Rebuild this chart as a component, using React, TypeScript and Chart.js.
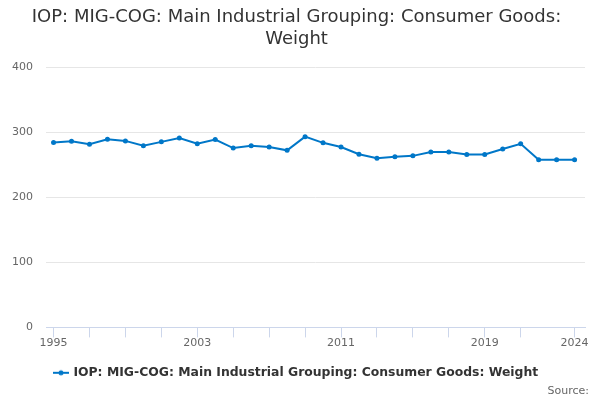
import React, { useEffect, useRef } from "react";
import { Chart, registerables } from "chart.js";

Chart.register(...registerables);

// years and weights
const years = [
    1995, 1996, 1997, 1998, 1999, 2000, 2001, 2002, 2003, 2004,
    2005, 2006, 2007, 2008, 2009, 2010, 2011, 2012, 2013, 2014,
    2015, 2016, 2017, 2018, 2019, 2020, 2021, 2022, 2023, 2024,
];
const weights = [
    284, 286, 281.5, 289, 286.5, 279, 285, 291, 282, 288.5,
    275.5, 279, 277, 272, 293, 283.5, 277, 266, 260, 262,
    263.5, 269.5, 269.5, 265.5, 265.5, 274, 282, 257.7, 257.7, 257.7,
];
const tickYears = [
    1995, 1997, 1999, 2001, 2003, 2005, 2007, 2009, 2011, 2013,
    2015, 2017, 2019, 2021, 2024,
];
const labelYears = [1995, 2003, 2011, 2019, 2024];
const yTicks = [0, 100, 200, 300, 400];

const seriesName = "IOP: MIG-COG: Main Industrial Grouping: Consumer Goods: Weight";
const titleLines = ["IOP: MIG-COG: Main Industrial Grouping: Consumer Goods:", "Weight"];
const lineColor = "#0077c8";
const font = "'DejaVu Sans', sans-serif";

// little legend marker: a line with a dot on it
const makeMarker = () => {
    const c = document.createElement("canvas");
    c.width = 16;
    c.height = 8;
    const g = c.getContext("2d");
    if (g) {
        g.strokeStyle = lineColor;
        g.lineWidth = 2;
        g.beginPath();
        g.moveTo(0, 4);
        g.lineTo(16, 4);
        g.stroke();
        g.fillStyle = lineColor;
        g.beginPath();
        g.arc(8, 4, 2.5, 0, Math.PI * 2);
        g.fill();
    }
    return c;
};

const App = () => {
    const chartRef = useRef<HTMLCanvasElement | null>(null);

    useEffect(() => {
        if (!chartRef.current) return;
        const ctx = chartRef.current.getContext("2d");
        if (!ctx) return;
        const marker = makeMarker();

        const chart = new Chart(ctx, {
            type: "line",
            data: {
                datasets: [
                    {
                        label: seriesName,
                        data: years.map((y, i) => ({ x: y, y: weights[i] })),
                        borderColor: lineColor,
                        backgroundColor: lineColor,
                        borderWidth: 2,
                        pointRadius: 2.5,
                        pointBorderWidth: 0,
                        pointStyle: "circle",
                        tension: 0,
                    },
                ],
            },
            options: {
                animation: false,
                responsive: false,
                layout: { padding: { left: 8, right: 15, top: 4, bottom: 11 } },
                plugins: {
                    title: {
                        display: true,
                        text: titleLines,
                        color: "#333333",
                        font: { family: font, size: 18, weight: "normal", lineHeight: 1.25 },
                        padding: { top: 2, bottom: 16 },
                    },
                    legend: {
                        position: "bottom",
                        labels: {
                            usePointStyle: true,
                            color: "#333333",
                            font: { family: font, size: 12.4, weight: "bold" },
                            padding: 18,
                            generateLabels: () => [
                                {
                                    text: seriesName,
                                    pointStyle: marker as any,
                                    fillStyle: lineColor,
                                    strokeStyle: lineColor,
                                    lineWidth: 0,
                                    datasetIndex: 0,
                                    fontColor: "#333333",
                                },
                            ],
                        },
                    },
                    tooltip: { enabled: false },
                },
                scales: {
                    x: {
                        type: "linear",
                        min: 1994.58,
                        max: 2024.58,
                        afterBuildTicks: (scale: any) => {
                            scale.ticks = tickYears.map((v) => ({ value: v }));
                        },
                        ticks: {
                            autoSkip: false,
                            maxRotation: 0,
                            color: "#666666",
                            font: { family: font, size: 11 },
                            padding: -1,
                            callback: (v: any) => (labelYears.includes(Number(v)) ? String(v) : ""),
                        },
                        grid: {
                            drawOnChartArea: false,
                            color: "#ccd6eb",
                            tickLength: 10,
                        },
                        border: { color: "#ccd6eb", width: 1 },
                    },
                    y: {
                        min: 0,
                        max: 400,
                        afterBuildTicks: (scale: any) => {
                            scale.ticks = yTicks.map((v) => ({ value: v }));
                        },
                        afterFit: (scale: any) => {
                            scale.width = 38;
                        },
                        ticks: {
                            color: "#666666",
                            font: { family: font, size: 11 },
                            padding: 13,
                        },
                        grid: {
                            drawTicks: false,
                            color: (c: any) => (c.tick && c.tick.value === 0 ? "rgba(0,0,0,0)" : "#e6e6e6"),
                        },
                        border: { display: false },
                    },
                },
            },
        });

        return () => {
            chart.destroy();
        };
    }, []);

    return (
        <div style={{ position: "fixed", left: 0, top: 0, width: 600, height: 400, background: "#ffffff" }}>
            <canvas ref={chartRef} width={600} height={400}></canvas>
            <span
                style={{
                    position: "absolute",
                    right: 11,
                    top: 384,
                    fontFamily: font,
                    fontSize: 11,
                    lineHeight: "14px",
                    color: "#666666",
                }}
            >
                Source:
            </span>
        </div>
    );
};

export default App;
